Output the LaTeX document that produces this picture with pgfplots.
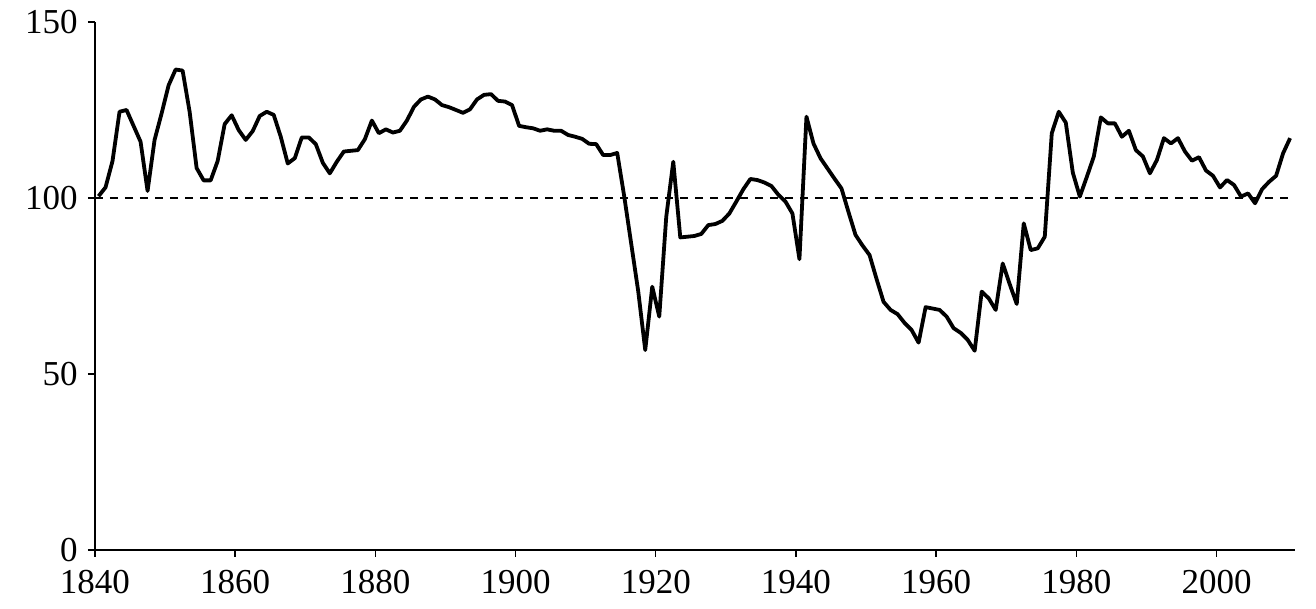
\documentclass[border=0pt]{standalone}
\usepackage{pgfplots}
\pgfplotsset{compat=1.18}
\usepackage{fontspec}
\setmainfont{Liberation Serif}
\begin{document}
\begin{tikzpicture}
\path[use as bounding box] (-47.5pt,-29.5pt) rectangle (610.5pt,275pt);
\begin{axis}[
  at={(0,0)}, anchor=south west,
  scale only axis, width=600pt, height=264pt,
  xmin=1840, xmax=2011.2, ymin=0, ymax=150,
  axis x line*=bottom, axis y line*=left,
  axis line style={-, line width=0.8pt, black},
  xtick={1840,1860,...,2000}, ytick={0,50,100,150},
  tick align=outside, major tick length=3.5pt,
  tick style={black, line width=0.7pt},
  /pgf/number format/assume math mode=true,
  /pgf/number format/1000 sep={},
  ticklabel style={font=\fontsize{17.5}{17.5}\selectfont, inner sep=1pt},
  yticklabel style={xshift=-4pt},
  xticklabel style={yshift=-5.3pt},
  clip=false,
]
\addplot[black, line width=0.65pt, dash pattern=on 4pt off 3.5pt] coordinates {(1840,100) (2010.5,100)};
\addplot[black, line width=1.9pt, line join=round] table[x expr=\thisrow{year}+0.5, y=v] {
year v
1840 100.5
1841 103
1842 110.5
1843 124.5
1844 125
1845 120.5
1846 116
1847 102
1848 116.5
1849 124
1850 132
1851 136.5
1852 136.2
1853 124.5
1854 108.5
1855 105
1856 105
1857 110.5
1858 121
1859 123.5
1860 119.3
1861 116.5
1862 119
1863 123.3
1864 124.5
1865 123.6
1866 117.4
1867 109.8
1868 111.3
1869 117.2
1870 117.2
1871 115.3
1872 110
1873 107
1874 110.3
1875 113.2
1876 113.4
1877 113.6
1878 116.7
1879 122
1880 118.4
1881 119.5
1882 118.6
1883 119.1
1884 122
1885 125.9
1886 128
1887 128.8
1888 128
1889 126.4
1890 125.8
1891 125
1892 124.2
1893 125.2
1894 128
1895 129.3
1896 129.5
1897 127.6
1898 127.4
1899 126.4
1900 120.5
1901 120.1
1902 119.8
1903 119.1
1904 119.5
1905 119.1
1906 119.1
1907 117.9
1908 117.4
1909 116.8
1910 115.4
1911 115.3
1912 112.2
1913 112.2
1914 112.8
1915 100.5
1916 87
1917 73.5
1918 56.8
1919 74.8
1920 66.3
1921 94.7
1922 110.3
1923 88.8
1924 89
1925 89.2
1926 89.8
1927 92.3
1928 92.6
1929 93.5
1930 95.6
1931 99
1932 102.5
1933 105.4
1934 105.1
1935 104.4
1936 103.4
1937 100.9
1938 99
1939 95.6
1940 82.6
1941 123.1
1942 115.5
1943 111.3
1944 108.4
1945 105.5
1946 102.7
1947 96
1948 89.5
1949 86.5
1950 83.8
1951 77
1952 70.5
1953 68.2
1954 67
1955 64.5
1956 62.5
1957 58.9
1958 69
1959 68.6
1960 68.2
1961 66.3
1962 63
1963 61.7
1964 59.7
1965 56.6
1966 73.4
1967 71.5
1968 68.2
1969 81.4
1970 75.5
1971 69.9
1972 92.8
1973 85.2
1974 85.7
1975 89
1976 118.4
1977 124.5
1978 121.4
1979 107.2
1980 100.4
1981 106
1982 111.8
1983 122.9
1984 121.2
1985 121.2
1986 117.4
1987 119.1
1988 113.6
1989 111.8
1990 107
1991 110.8
1992 117
1993 115.5
1994 117
1995 113.2
1996 110.6
1997 111.6
1998 107.8
1999 106.3
2000 103
2001 105.1
2002 103.7
2003 100.4
2004 101.3
2005 98.5
2006 102.5
2007 104.6
2008 106.3
2009 112.7
2010 117
};
\end{axis}
\end{tikzpicture}
\end{document}
